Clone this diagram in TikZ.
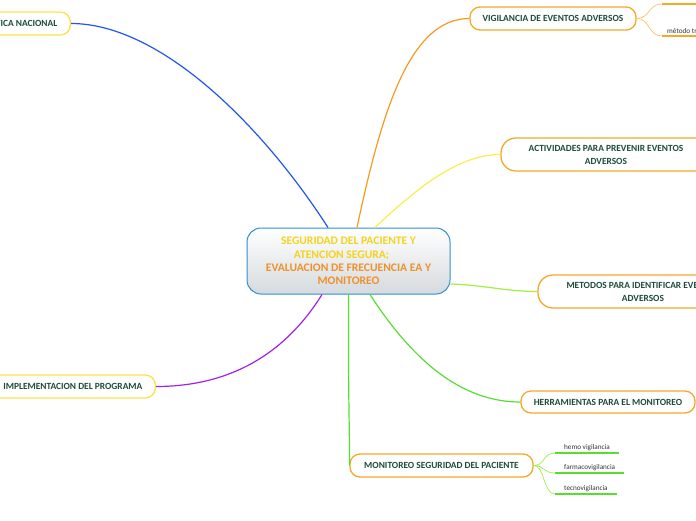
\documentclass[tikz,border=0pt]{standalone}
\usepackage{fontspec}
\setmainfont{Carlito}
\definecolor{dkgreen}{HTML}{1E4B3C}
\definecolor{ybd}{HTML}{F7E34B}
\definecolor{obd}{HTML}{F5A82A}
\definecolor{cyel}{HTML}{F5D31C}
\definecolor{cora}{HTML}{F0902A}
\definecolor{bline}{HTML}{2255EE}
\definecolor{oline}{HTML}{F59A20}
\definecolor{yline}{HTML}{F5F04A}
\definecolor{lgline}{HTML}{A0F040}
\definecolor{gline}{HTML}{55E030}
\definecolor{pline}{HTML}{A020F0}
\definecolor{bbd}{HTML}{2F8FD0}
\definecolor{cbot}{HTML}{D5DADE}
\definecolor{subtxt}{HTML}{333333}
\tikzset{
  topic/.style={draw, line width=1.3pt, rounded corners=10pt, fill=white, text=dkgreen,
    font=\bfseries\fontsize{9.4}{13}\selectfont, align=center, inner xsep=12pt, inner ysep=0pt},
  ytopic/.style={topic, draw=ybd},
  otopic/.style={topic, draw=obd},
  conn/.style={line width=1.2pt},
  subconn/.style={line width=0.7pt},
  subnode/.style={font=\fontsize{7.2}{8}\selectfont, text=subtxt, inner xsep=9pt, inner ysep=2pt, anchor=south west},
  gunder/.style={line width=1.2pt, draw=gline},
  ounder/.style={line width=1.6pt, draw=obd}
}
\begin{document}
\begin{tikzpicture}[x=1pt,y=-1pt]
\useasboundingbox (0,0) rectangle (696,520);
\clip (0,0) rectangle (696,520);
% central
\node[draw=bbd, line width=1pt, rounded corners=14pt, top color=white, bottom color=cbot,
  minimum width=203pt, minimum height=66pt, align=center, inner sep=0pt,
  font=\bfseries\fontsize{11.6}{13.4}\selectfont] (c) at (348.5,261)
  {\textcolor{cyel}{SEGURIDAD DEL PACIENTE Y}\\ \textcolor{cyel}{ATENCION SEGURA;\hspace*{1.2em}}\\
   \textcolor{cora}{EVALUACION DE FRECUENCIA EA Y}\\ \textcolor{cora}{MONITOREO}};
% topics
\node[ytopic, anchor=east, minimum height=23pt, inner xsep=13pt] (pol) at (71,23.5) {POLITICA NACIONAL};
\node[ytopic, anchor=east, minimum height=23pt, inner xsep=13pt] (impl) at (156,386.5) {IMPLEMENTACION DEL PROGRAMA};
\node[otopic, minimum width=166pt, minimum height=23pt] (vig) at (553,18.5) {VIGILANCIA DE EVENTOS ADVERSOS};
\node[otopic, minimum width=210pt, minimum height=33pt, rounded corners=15pt] (act) at (606,154.5) {ACTIVIDADES PARA PREVENIR EVENTOS\\ADVERSOS};
\node[otopic, minimum width=210pt, minimum height=33pt, rounded corners=15pt] (met) at (643,291.5) {METODOS PARA IDENTIFICAR EVENTOS\\ADVERSOS};
\node[otopic, minimum width=174pt, minimum height=22pt] (her) at (608,402) {HERRAMIENTAS PARA EL MONITOREO};
\node[otopic, minimum width=183pt, minimum height=23pt] (mon) at (441.5,465.5) {MONITOREO SEGURIDAD DEL PACIENTE};
% main connectors
\draw[conn, bline] ([xshift=-20.5pt]c.north) .. controls (262,125) and (160,23.5) .. (pol.east);
\draw[conn, oline] ([xshift=8.5pt]c.north) .. controls (382,110) and (410,18.5) .. (vig.west);
\draw[conn, yline] ([xshift=26.5pt]c.north) .. controls (420,185) and (460,154.5) .. (act.west);
\draw[conn, lgline] ([yshift=-23pt]c.east) .. controls (485,285) and (505,291.5) .. (met.west);
\draw[conn, gline] ([xshift=21.5pt]c.south) .. controls (420,372) and (470,402) .. (her.west);
\draw[conn, gline] (c.south) .. controls (348,400) and (350,440) .. (mon.west);
\draw[conn, pline] ([xshift=-26.5pt]c.south) .. controls (280,362) and (220,386.5) .. (impl.east);
% vigilancia subnodes
\node[subnode, minimum width=50pt, minimum height=8pt] (v1) at (662,4) {};
\node[subnode, inner xsep=5pt] (v2) at (662,36) {método tradicional};
\draw[ounder] (v1.south west) -- ([xshift=40pt]v1.south east);
\draw[ounder] (v2.south west) -- ([xshift=10pt]v2.south east);
\draw[subconn, obd!70] (vig.east) .. controls (650,18.5) and (648,4) .. (v1.south west);
\draw[subconn, obd!70] (vig.east) .. controls (650,18.5) and (648,36) .. (v2.south west);
% monitoreo subnodes
\node[subnode] (h1) at (555,453) {hemo vigilancia};
\node[subnode] (h2) at (555,473) {farmacovigilancia};
\node[subnode] (h3) at (555,494) {tecnovigilancia};
\draw[gunder] (h1.south west) -- (h1.south east);
\draw[gunder] (h2.south west) -- (h2.south east);
\draw[gunder] (h3.south west) -- (h3.south east);
\draw[subconn, lgline] (mon.east) .. controls (545,465.5) and (543,453) .. (h1.south west);
\draw[subconn, lgline] (mon.east) .. controls (545,465.5) and (543,473) .. (h2.south west);
\draw[subconn, lgline] (mon.east) .. controls (545,465.5) and (543,494) .. (h3.south west);
\end{tikzpicture}
\end{document}
